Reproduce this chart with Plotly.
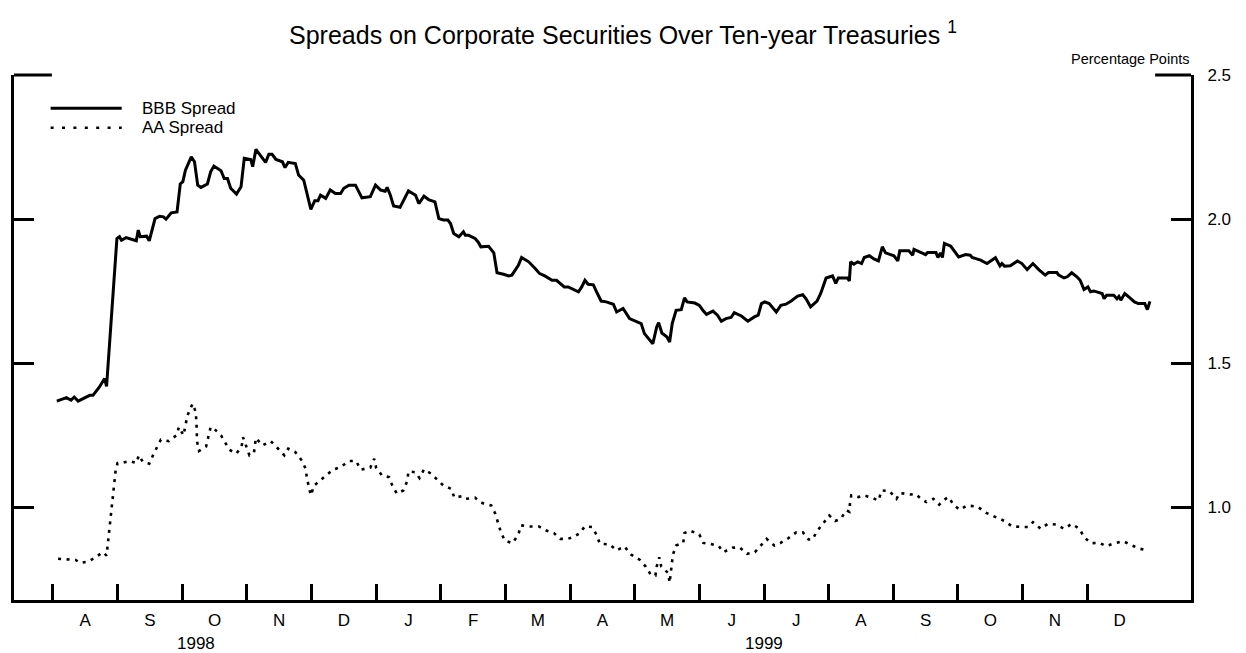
import plotly.graph_objects as go

# x values: time in months since 1 Aug 1998 (0 = Aug 1998 start, 16 = Dec 1999 start)
bbb_t = [0.06, 0.21, 0.28, 0.33, 0.39, 0.51, 0.57, 0.62, 0.72, 0.80, 0.83, 0.99, 1.03, 1.06, 1.13, 1.29,
         1.32, 1.35, 1.45, 1.49, 1.58, 1.65, 1.71, 1.75, 1.83, 1.92, 1.97, 2.01, 2.05, 2.14, 2.19, 2.24,
         2.29, 2.39, 2.44, 2.49, 2.60, 2.65, 2.70, 2.75, 2.84, 2.91, 2.96, 3.06, 3.09, 3.14, 3.21, 3.29,
         3.34, 3.39, 3.45, 3.55, 3.59, 3.64, 3.75, 3.80, 3.88, 3.99, 4.05, 4.10, 4.14, 4.22, 4.29, 4.37,
         4.45, 4.50, 4.58, 4.68, 4.78, 4.91, 4.99, 5.07, 5.14, 5.17, 5.22, 5.27, 5.37, 5.50, 5.61, 5.66,
         5.74, 5.81, 5.91, 5.97, 6.04, 6.11, 6.15, 6.20, 6.28, 6.35, 6.38, 6.43, 6.53, 6.58, 6.62, 6.74,
         6.82, 6.87, 6.97, 7.05, 7.10, 7.20, 7.25, 7.36, 7.46, 7.53, 7.61, 7.72, 7.79, 7.91, 7.97, 8.02,
         8.13, 8.18, 8.23, 8.28, 8.36, 8.41, 8.48, 8.56, 8.67, 8.72, 8.82, 8.92, 9.03, 9.10, 9.15, 9.28,
         9.34, 9.37, 9.42, 9.50, 9.54, 9.58, 9.64, 9.72, 9.77, 9.81, 9.93, 10.00, 10.06, 10.11, 10.21,
         10.28, 10.34, 10.41, 10.49, 10.54, 10.65, 10.75, 10.85, 10.91, 10.96, 11.01, 11.08, 11.19, 11.26,
         11.34, 11.42, 11.52, 11.60, 11.65, 11.72, 11.82, 11.88, 11.96, 12.06, 12.11, 12.15, 12.29, 12.32,
         12.34, 12.39, 12.45, 12.51, 12.55, 12.63, 12.70, 12.77, 12.83, 12.88, 13.01, 13.07, 13.10, 13.24,
         13.30, 13.32, 13.40, 13.50, 13.53, 13.66, 13.69, 13.73, 13.76, 13.79, 13.89, 14.01, 14.12, 14.19,
         14.22, 14.35, 14.45, 14.58, 14.65, 14.68, 14.72, 14.81, 14.92, 14.99, 15.07, 15.16, 15.25, 15.35,
         15.40, 15.53, 15.56, 15.64, 15.69, 15.76, 15.84, 15.89, 15.95, 16.01, 16.05, 16.10, 16.23, 16.26,
         16.30, 16.41, 16.46, 16.49, 16.52, 16.58, 16.66, 16.73, 16.79, 16.89, 16.93, 16.97]
bbb_spread = [1.369, 1.381, 1.372, 1.383, 1.369, 1.381, 1.389, 1.389, 1.418, 1.447, 1.420, 1.933, 1.939,
              1.927, 1.936, 1.925, 1.962, 1.939, 1.941, 1.925, 2.002, 2.010, 2.008, 2.000, 2.022, 2.025,
              2.122, 2.130, 2.170, 2.216, 2.199, 2.118, 2.110, 2.122, 2.164, 2.184, 2.168, 2.141, 2.141,
              2.107, 2.087, 2.112, 2.211, 2.207, 2.182, 2.242, 2.222, 2.197, 2.225, 2.225, 2.207, 2.199,
              2.179, 2.197, 2.193, 2.153, 2.135, 2.034, 2.064, 2.064, 2.083, 2.072, 2.101, 2.089, 2.089,
              2.107, 2.118, 2.118, 2.074, 2.078, 2.118, 2.101, 2.097, 2.110, 2.083, 2.046, 2.041, 2.098,
              2.083, 2.054, 2.080, 2.068, 2.060, 2.002, 1.997, 1.997, 1.985, 1.950, 1.939, 1.956, 1.944,
              1.944, 1.933, 1.920, 1.904, 1.906, 1.883, 1.814, 1.809, 1.803, 1.806, 1.840, 1.867, 1.852,
              1.829, 1.811, 1.803, 1.788, 1.788, 1.765, 1.765, 1.759, 1.748, 1.765, 1.788, 1.774, 1.772,
              1.748, 1.716, 1.713, 1.705, 1.678, 1.690, 1.655, 1.646, 1.638, 1.603, 1.568, 1.626, 1.641,
              1.605, 1.591, 1.574, 1.638, 1.684, 1.686, 1.727, 1.713, 1.709, 1.701, 1.682, 1.670, 1.681,
              1.667, 1.646, 1.655, 1.659, 1.676, 1.664, 1.646, 1.661, 1.667, 1.707, 1.713, 1.707, 1.678,
              1.701, 1.705, 1.716, 1.733, 1.738, 1.724, 1.696, 1.716, 1.744, 1.796, 1.803, 1.777, 1.796,
              1.796, 1.786, 1.852, 1.844, 1.852, 1.846, 1.867, 1.873, 1.862, 1.855, 1.904, 1.883, 1.873,
              1.855, 1.890, 1.890, 1.875, 1.895, 1.887, 1.877, 1.884, 1.884, 1.867, 1.883, 1.867, 1.916,
              1.906, 1.869, 1.877, 1.875, 1.867, 1.858, 1.846, 1.866, 1.838, 1.846, 1.837, 1.838, 1.855,
              1.846, 1.825, 1.846, 1.825, 1.806, 1.815, 1.815, 1.806, 1.796, 1.800, 1.814, 1.800, 1.788,
              1.756, 1.765, 1.748, 1.751, 1.742, 1.724, 1.736, 1.736, 1.724, 1.732, 1.719, 1.742, 1.727,
              1.713, 1.707, 1.707, 1.686, 1.715]

aa_t = [0.08, 0.26, 0.35, 0.42, 0.54, 0.66, 0.77, 0.83, 0.86, 0.90, 0.94, 0.97, 1.00, 1.08, 1.19, 1.29,
        1.33, 1.39, 1.49, 1.56, 1.67, 1.79, 1.91, 1.95, 2.02, 2.05, 2.08, 2.16, 2.21, 2.22, 2.23, 2.26,
        2.37, 2.44, 2.49, 2.60, 2.73, 2.84, 2.92, 2.94, 2.99, 3.04, 3.11, 3.14, 3.24, 3.37, 3.47, 3.58,
        3.64, 3.75, 3.85, 3.91, 3.93, 3.96, 3.99, 4.04, 4.14, 4.24, 4.34, 4.45, 4.58, 4.69, 4.76, 4.91,
        4.97, 5.00, 5.09, 5.20, 5.25, 5.32, 5.42, 5.48, 5.50, 5.61, 5.67, 5.74, 5.85, 5.94, 6.04, 6.16,
        6.21, 6.33, 6.39, 6.53, 6.61, 6.66, 6.78, 6.84, 6.88, 6.93, 6.99, 7.11, 7.20, 7.24, 7.38, 7.52,
        7.61, 7.75, 7.85, 7.96, 8.05, 8.15, 8.23, 8.34, 8.41, 8.46, 8.61, 8.72, 8.84, 8.94, 9.08, 9.17,
        9.25, 9.32, 9.34, 9.38, 9.41, 9.52, 9.54, 9.57, 9.59, 9.64, 9.75, 9.77, 9.85, 10.00, 10.06, 10.17,
        10.30, 10.37, 10.51, 10.62, 10.74, 10.86, 10.96, 11.04, 11.16, 11.25, 11.38, 11.50, 11.60, 11.69,
        11.75, 11.82, 11.91, 12.01, 12.10, 12.19, 12.27, 12.32, 12.33, 12.35, 12.46, 12.55, 12.69, 12.77,
        12.82, 12.94, 13.05, 13.10, 13.27, 13.34, 13.43, 13.51, 13.62, 13.71, 13.77, 13.85, 13.94, 14.03,
        14.14, 14.30, 14.43, 14.57, 14.72, 14.84, 14.96, 15.08, 15.16, 15.28, 15.39, 15.52, 15.64, 15.76,
        15.88, 15.95, 16.06, 16.19, 16.29, 16.42, 16.56, 16.67, 16.81, 16.94]
aa_spread = [0.822, 0.818, 0.818, 0.808, 0.812, 0.827, 0.845, 0.833, 0.897, 0.995, 1.065, 1.128, 1.154,
             1.155, 1.161, 1.154, 1.181, 1.158, 1.152, 1.187, 1.235, 1.230, 1.250, 1.279, 1.250, 1.285,
             1.319, 1.360, 1.331, 1.296, 1.229, 1.196, 1.212, 1.279, 1.274, 1.250, 1.200, 1.187, 1.212,
             1.244, 1.212, 1.181, 1.190, 1.241, 1.215, 1.230, 1.207, 1.181, 1.204, 1.192, 1.163, 1.134,
             1.100, 1.065, 1.042, 1.076, 1.096, 1.114, 1.132, 1.140, 1.161, 1.161, 1.131, 1.138, 1.169,
             1.138, 1.111, 1.105, 1.076, 1.048, 1.059, 1.091, 1.125, 1.122, 1.102, 1.132, 1.117, 1.096,
             1.076, 1.065, 1.034, 1.039, 1.030, 1.034, 1.019, 1.014, 1.007, 0.980, 0.947, 0.914, 0.885,
             0.876, 0.906, 0.938, 0.934, 0.934, 0.922, 0.911, 0.891, 0.891, 0.897, 0.911, 0.935, 0.932,
             0.905, 0.874, 0.872, 0.851, 0.865, 0.837, 0.818, 0.795, 0.766, 0.764, 0.795, 0.827, 0.795,
             0.772, 0.739, 0.802, 0.836, 0.868, 0.877, 0.911, 0.920, 0.906, 0.877, 0.874, 0.866, 0.845,
             0.860, 0.862, 0.839, 0.845, 0.872, 0.891, 0.868, 0.876, 0.894, 0.914, 0.914, 0.889, 0.889,
             0.918, 0.943, 0.972, 0.953, 0.961, 0.990, 0.985, 1.015, 1.042, 1.036, 1.042, 1.032, 1.024,
             1.059, 1.057, 1.030, 1.050, 1.045, 1.047, 1.030, 1.019, 1.030, 1.010, 1.024, 1.036, 1.007,
             0.992, 1.007, 1.003, 0.982, 0.967, 0.953, 0.934, 0.934, 0.932, 0.949, 0.926, 0.943, 0.941,
             0.926, 0.943, 0.926, 0.897, 0.876, 0.877, 0.866, 0.876, 0.883, 0.870, 0.857, 0.851]

month_labels = ["A", "S", "O", "N", "D", "J", "F", "M", "A", "M", "J", "J", "A", "S", "O", "N", "D"]
month_starts = list(range(len(month_labels)))
year_labels = ["1998", "1999"]
year_centers = [2.21, 11.0]
y_ticks = [1.0, 1.5, 2.0, 2.5]
y_ticktext = ["1.0", "1.5", "2.0", "2.5"]

FONT = "Liberation Sans, Arial, Helvetica, sans-serif"

# page body has an 8px margin; figure is sized/offset to compensate
W, H = 1238, 645

fig = go.Figure()
fig.add_trace(go.Scatter(x=bbb_t, y=bbb_spread, mode="lines", name="BBB Spread",
                         line=dict(color="black", width=3), showlegend=False))
fig.add_trace(go.Scatter(x=aa_t, y=aa_spread, mode="lines", name="AA Spread",
                         line=dict(color="black", width=2.6, dash="3px,5.5px"), showlegend=False))

fig.update_layout(
    width=W, height=H,
    margin=dict(l=3, r=55, t=67, b=53),
    paper_bgcolor="white", plot_bgcolor="white",
    font=dict(family=FONT, color="black", size=17),
    title=dict(text="Spreads on Corporate Securities Over Ten-year Treasuries <sup>1</sup>",
               x=(623 - 8) / W, xanchor="center", xref="container", y=1 - 27 / H, yanchor="middle",
               yref="container", font=dict(size=25, family=FONT, color="black")),
    xaxis=dict(range=[-0.602, 17.605], showgrid=False, zeroline=False,
               showline=True, linecolor="black", linewidth=3,
               tickmode="array", tickvals=[m + 0.5 for m in month_starts], ticktext=month_labels,
               ticks="", ticklabelstandoff=3, tickfont=dict(size=17),
               minor=dict(tickmode="array", tickvals=month_starts, ticks="inside", ticklen=16,
                          tickwidth=2.5, tickcolor="black", showgrid=False)),
    yaxis=dict(range=[0.679, 2.5], side="right", showgrid=False, zeroline=False,
               showline=True, linecolor="black", linewidth=3, mirror="ticks",
               tickmode="array", tickvals=y_ticks, ticktext=y_ticktext,
               ticks="inside", ticklen=20, tickwidth=2.5, tickcolor="black",
               ticklabelstandoff=10, tickfont=dict(size=17)),
)

# top partial frame segments
fig.add_shape(type="line", xref="paper", yref="paper", x0=0, x1=38 / 1180, y0=1, y1=1,
              line=dict(color="black", width=3))
fig.add_shape(type="line", xref="paper", yref="paper", x0=1 - 36 / 1180, x1=1, y0=1, y1=1,
              line=dict(color="black", width=3))

# manual legend
leg_y = [1 - 33.3 / 525, 1 - 52.7 / 525]
fig.add_shape(type="line", xref="paper", yref="paper", x0=36.7 / 1180, x1=108 / 1180,
              y0=leg_y[0], y1=leg_y[0], line=dict(color="black", width=3))
fig.add_shape(type="line", xref="paper", yref="paper", x0=36.7 / 1180, x1=108 / 1180,
              y0=leg_y[1], y1=leg_y[1], line=dict(color="black", width=2.6, dash="3px,8.4px"))
for name, yy in zip(["BBB Spread", "AA Spread"], leg_y):
    fig.add_annotation(text=name, xref="paper", yref="paper", x=126 / 1180, y=yy,
                       xanchor="left", yanchor="middle", showarrow=False, font=dict(size=17))

fig.add_annotation(text="Percentage Points", xref="paper", yref="paper", x=1.001, y=1 + 16 / 525,
                   xanchor="right", yanchor="middle", showarrow=False, font=dict(size=14.5))

for yl, xc in zip(year_labels, year_centers):
    fig.add_annotation(text=yl, xref="x", yref="paper", x=xc, y=-43 / 525,
                       xanchor="center", yanchor="middle", showarrow=False, font=dict(size=17))

fig.write_html("out.html")
